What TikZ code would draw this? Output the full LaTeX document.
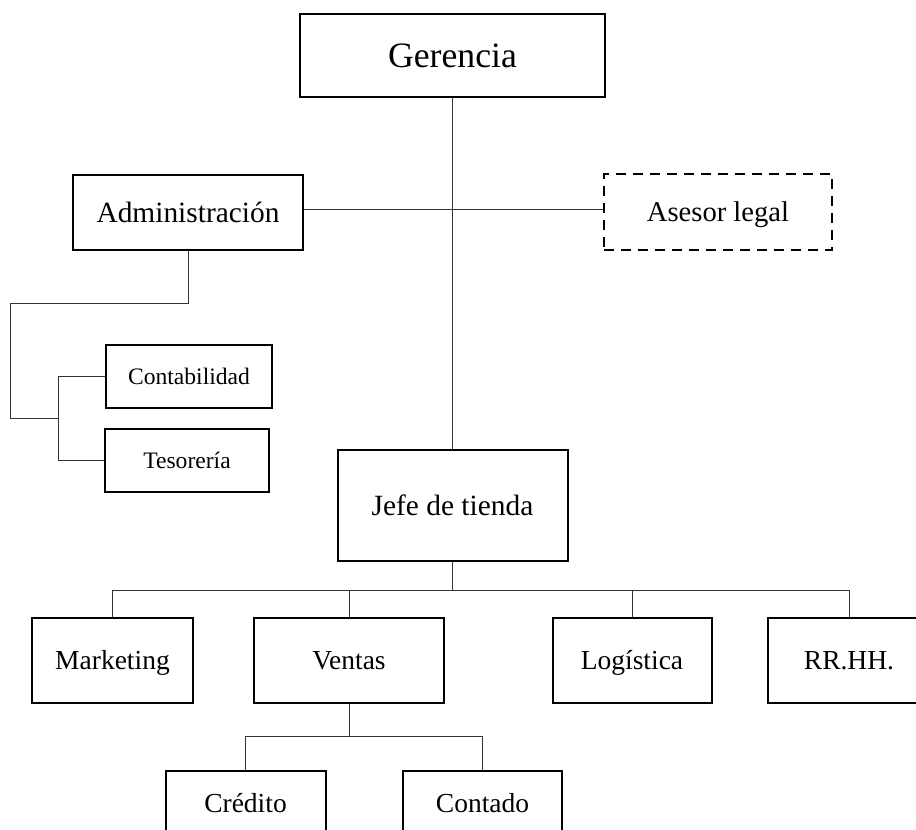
\documentclass[tikz,border=0pt]{standalone}
\usepackage{fontspec}
\setmainfont{Liberation Serif}
\begin{document}
\begin{tikzpicture}[x=1pt,y=-1pt,
  unit/.style={draw=black,line width=2pt,rectangle,inner sep=0pt,align=center,fill=white},
  advisor/.style={unit,dash pattern=on 10pt off 7pt},
  link/.style={draw=black!80,line width=1pt},
  fsA/.style={font=\fontsize{35.7}{40}\selectfont,text height=26.8pt,text depth=3.2pt},
  fsB/.style={font=\fontsize{29.4}{33}\selectfont,text height=22pt,text depth=2.6pt},
  fsL/.style={font=\fontsize{28.6}{32}\selectfont,text height=21.5pt,text depth=2.6pt},
  fsC/.style={font=\fontsize{23.6}{27}\selectfont,text height=17.7pt,text depth=2.1pt},
  fsD/.style={font=\fontsize{27.5}{31}\selectfont,text height=20.6pt,text depth=2.5pt}]
\useasboundingbox (0,0) rectangle (916,830);
\clip (0,0) rectangle (916,830);

% top level
\node[unit,fsA,minimum width=305pt,minimum height=83pt] (ger) at (452.5,55.5) {Gerencia};
\node[unit,fsB,minimum width=230pt,minimum height=75pt] (adm) at (188,212.5) {Administración};
\node[advisor,fsL,minimum width=228pt,minimum height=76pt] (ase) at (718,212) {Asesor legal};

% administration units
\node[unit,fsC,minimum width=166pt,minimum height=63pt] (con) at (189,376.5) {Contabilidad};
\node[unit,fsC,minimum width=164pt,minimum height=63pt] (tes) at (187,460.5) {Tesorería};

% store
\node[unit,fsB,minimum width=230pt,minimum height=111pt] (jef) at (452.5,505.5) {Jefe de tienda};

\node[unit,fsD,minimum width=161pt,minimum height=85pt] (mkt) at (112.5,660) {Marketing};
\node[unit,fsD,minimum width=190pt,minimum height=85pt] (ven) at (349,660) {Ventas};
\node[unit,fsD,minimum width=159pt,minimum height=85pt] (log) at (632,660) {Logística};
\node[unit,fsD,minimum width=162pt,minimum height=85pt] (rrh) at (849,660) {RR.HH.};

\node[unit,fsD,minimum width=160pt,minimum height=64pt] (cre) at (245.5,803) {Crédito};
\node[unit,fsD,minimum width=159pt,minimum height=64pt] (cot) at (482.5,803) {Contado};

% helper coordinates for the elbow connectors
\coordinate (a1) at (10,303);
\coordinate (bj) at (58,418);
\coordinate (bus) at (0,590);
\coordinate (bus2) at (0,736);

% connectors
\draw[link] (ger.south) -- (jef.north);
\draw[link] ([yshift=3.5pt]adm.east) -- ([yshift=3pt]ase.west);
\draw[link] (adm.south) |- (a1) |- (bj);
\draw[link] (con.west) -- (con.west -| bj) |- (tes.west);
\draw[link] (jef.south) -- (jef.south |- bus);
\draw[link] (mkt.north) -- (mkt.north |- bus) -- (rrh.north |- bus) -- (rrh.north);
\draw[link] (ven.north) -- (ven.north |- bus);
\draw[link] (log.north) -- (log.north |- bus);
\draw[link] (ven.south) -- (ven.south |- bus2);
\draw[link] (cre.north) -- (cre.north |- bus2) -- (cot.north |- bus2) -- (cot.north);
\end{tikzpicture}
\end{document}
